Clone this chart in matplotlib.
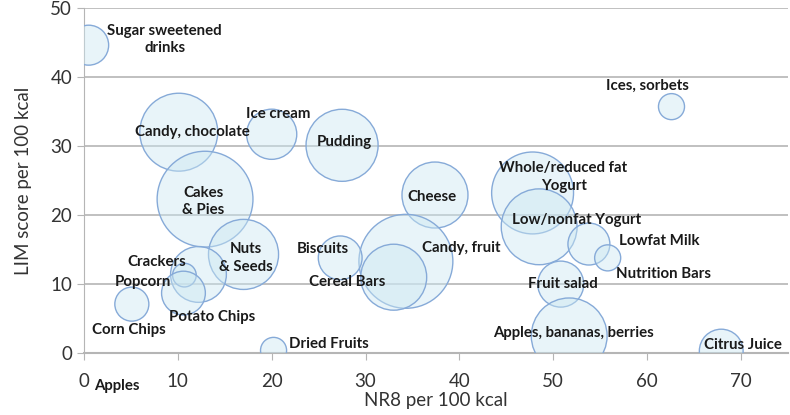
import matplotlib
matplotlib.use("Agg")
import matplotlib.pyplot as plt

# NR8 (x), LIM (y), bubble size (relative consumption)
foods = ["Sugar sweetened\ndrinks", "Candy, chocolate", "Ice cream", "Pudding",
         "Cakes\n& Pies", "Ices, sorbets", "Cheese", "Whole/reduced fat\nYogurt",
         "Low/nonfat Yogurt", "Lowfat Milk", "Nutrition Bars", "Fruit salad",
         "Apples, bananas, berries", "Citrus Juice", "Candy, fruit", "Cereal Bars",
         "Biscuits", "Nuts\n& Seeds", "Crackers", "Popcorn", "Corn Chips",
         "Potato Chips", "Dried Fruits", "Apples"]
nr8 = [0.5, 10.1, 20.0, 27.5, 12.9, 62.6, 37.4, 47.8, 48.5, 53.8, 55.8, 50.8,
       51.7, 67.9, 34.3, 33.0, 27.3, 17.0, 12.2, 10.7, 5.1, 10.6, 20.2, 0.0]
lim = [44.6, 32.0, 31.7, 30.1, 22.3, 35.7, 22.9, 23.2, 18.3, 15.8, 13.8, 10.0,
       2.5, 0.3, 13.3, 11.0, 13.8, 14.3, 11.4, 11.3, 7.1, 8.7, 0.4, 0.0]
size = [4.0, 15.2, 6.3, 13.0, 23.0, 1.7, 10.9, 16.8, 14.4, 4.4, 1.7, 5.3,
        14.4, 4.8, 22.1, 10.9, 4.8, 12.3, 7.8, 1.4, 2.9, 4.8, 1.7, 0.0]

# label anchor points (data coords)
label_x = [8.6, 11.5, 20.7, 27.7, 12.7, 60.0, 37.1, 51.1, 52.5, 61.3, 61.7, 51.0,
           52.2, 70.2, 40.2, 28.0, 25.4, 17.3, 7.8, 6.3, 4.8, 13.7, 26.1, 3.5]
label_y = [45.4, 32.0, 34.7, 30.6, 22.0, 38.7, 22.6, 25.5, 19.3, 16.2, 11.4, 10.0,
           2.9, 1.2, 15.2, 10.3, 15.1, 13.8, 13.2, 10.3, 3.3, 5.2, 1.3, -4.8]

fig = plt.figure(figsize=(7.9, 4.15), dpi=100)
ax = fig.add_axes([0.1063, 0.149, 0.891, 0.832])

ax.scatter(nr8, lim, s=[v * 207 for v in size],
           facecolor=(0.80, 0.91, 0.95, 0.45), edgecolor="#86aad8",
           linewidth=1.0, zorder=3)

for name, lx, ly in zip(foods, label_x, label_y):
    ax.text(lx, ly, name, ha="center", va="center", fontsize=10.8,
            fontweight="bold", family="Lato", color="#1a1a1a",
            linespacing=1.3, zorder=5, clip_on=False)

ax.set_xlim(0, 75)
ax.set_ylim(0, 50)
ax.set_xticks(range(0, 80, 10))
ax.set_yticks(range(0, 60, 10))
ax.yaxis.grid(True, color="#b5b5b5", linewidth=1.2)
ax.set_axisbelow(True)

for side in ["top", "right"]:
    ax.spines[side].set_visible(False)
ax.spines["left"].set_color("#b5b5b5")
ax.spines["bottom"].set_color("#b5b5b5")
ax.spines["bottom"].set_linewidth(1.5)
ax.tick_params(axis="both", colors="#b5b5b5", labelcolor="#333333",
               labelsize=13.5, length=5)
for lab in ax.get_xticklabels() + ax.get_yticklabels():
    lab.set_family("Lato")
ax.tick_params(axis="x", pad=9)

ax.set_xlabel("NR8 per 100 kcal", fontsize=13.5, family="Lato", color="#333333",
              labelpad=2)
ax.set_ylabel("LIM score per 100 kcal", fontsize=13.5, family="Lato",
              color="#333333", labelpad=13)

fig.savefig("out.png", dpi=100)
